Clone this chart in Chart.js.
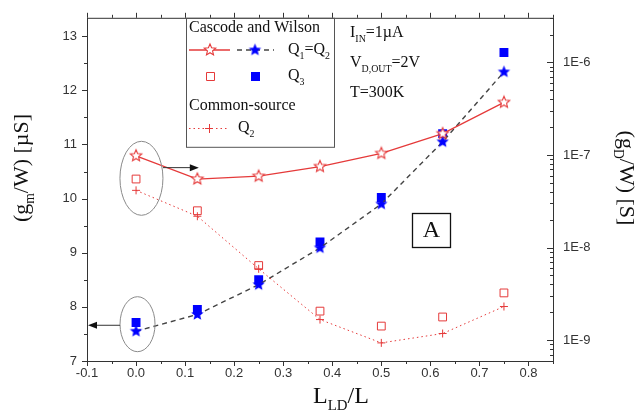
<!DOCTYPE html>
<html>
<head>
<meta charset="utf-8">
<script src="https://cdn.jsdelivr.net/npm/chart.js@4.4.0/dist/chart.umd.min.js"></script>
<style>
  html, body { margin: 0; padding: 0; background: #fff; }
  #wrap { width: 639px; height: 412px; position: relative; }
</style>
</head>
<body>
<div id="wrap"><canvas id="chart"></canvas></div>
<script>
const lengthRatio = [0, 0.125, 0.25, 0.375, 0.5, 0.625, 0.75];

// gm/W in uS, left axis (blue)
const gmCascodeQ12 = [7.55, 7.86, 8.41, 9.09, 9.90, 11.05, 12.34];
const gmCascodeQ3 = [7.71, 7.95, 8.50, 9.20, 10.02, 11.20, 12.70];

// gD/W in S, right log axis (red)
const gdCascodeQ12 = [9.8e-8, 5.5e-8, 5.9e-8, 7.5e-8, 1.04e-7, 1.7e-7, 3.7e-7];
const gdCascodeQ3 = [5.5e-8, 2.5e-8, 6.4e-9, 2.06e-9, 1.42e-9, 1.78e-9, 3.24e-9];
const gdCommonQ2 = [4.15e-8, 2.18e-8, 5.9e-9, 1.67e-9, 9.35e-10, 1.18e-9, 2.31e-9];

const xTickLabels = ['-0.1', '0.0', '0.1', '0.2', '0.3', '0.4', '0.5', '0.6', '0.7', '0.8'];
const leftTickLabels = ['7', '8', '9', '10', '11', '12', '13'];
const rightTickLabels = ['1E-9', '1E-8', '1E-7', '1E-6'];

const RED = '#e53a3a';
const BLUE = '#0000ff';
const DASH = '#444444';
const SERIF = '"Liberation Serif", "DejaVu Serif", serif';
const SANS = '"Liberation Sans", Arial, sans-serif';

function makeStar(fill, stroke, r) {
  const size = Math.ceil(r * 2 + 4);
  const c = document.createElement('canvas');
  c.width = size;
  c.height = size;
  const ctx = c.getContext('2d');
  ctx.beginPath();
  for (let i = 0; i < 10; i++) {
    const rad = i % 2 === 0 ? r : r * 0.45;
    const a = -Math.PI / 2 + i * Math.PI / 5;
    const px = size / 2 + rad * Math.cos(a);
    const py = size / 2 + rad * Math.sin(a);
    if (i === 0) ctx.moveTo(px, py); else ctx.lineTo(px, py);
  }
  ctx.closePath();
  ctx.fillStyle = fill;
  ctx.fill();
  if (stroke) {
    ctx.strokeStyle = stroke;
    ctx.lineWidth = 1.1;
    ctx.stroke();
  }
  return c;
}

const redStar = makeStar('#ffffff', RED, 6);
const blueStar = makeStar(BLUE, null, 6.5);

function pts(ys) {
  return ys.map((y, i) => ({ x: lengthRatio[i], y: y }));
}

// text with subscripts: parts = [[text, isSub], ...]
function richWidth(ctx, parts, size) {
  let w = 0;
  parts.forEach(([t, sub]) => {
    ctx.font = (sub ? size * 0.62 : size) + 'px ' + SERIF;
    w += ctx.measureText(t).width;
  });
  return w;
}

function drawRich(ctx, parts, x, y, size, align) {
  let cx = x;
  if (align === 'center') cx = x - richWidth(ctx, parts, size) / 2;
  ctx.textBaseline = 'middle';
  ctx.textAlign = 'left';
  parts.forEach(([t, sub]) => {
    ctx.font = (sub ? size * 0.62 : size) + 'px ' + SERIF;
    ctx.fillText(t, cx, sub ? y + size * 0.38 : y);
    cx += ctx.measureText(t).width;
  });
}

function arrow(ctx, x1, y1, x2, y2) {
  const dir = Math.sign(x2 - x1);
  ctx.beginPath();
  ctx.moveTo(x1, y1);
  ctx.lineTo(x2 - dir * 7, y2);
  ctx.stroke();
  ctx.beginPath();
  ctx.moveTo(x2, y2);
  ctx.lineTo(x2 - dir * 9, y2 - 3.5);
  ctx.lineTo(x2 - dir * 9, y2 + 3.5);
  ctx.closePath();
  ctx.fill();
}

const decorations = {
  id: 'decorations',
  afterDraw(chart) {
    const ctx = chart.ctx;
    const area = chart.chartArea;
    const xs = chart.scales.x;
    const yl = chart.scales.y;
    const yr = chart.scales.yR;
    ctx.save();

    // frame
    ctx.strokeStyle = '#333';
    ctx.lineWidth = 1;
    ctx.strokeRect(area.left + 0.5, area.top + 0.5, area.right - area.left, area.bottom - area.top);

    // ticks on x (bottom and top)
    ctx.beginPath();
    const xMajor = xTickLabels.map(Number);
    xMajor.forEach(v => {
      [v, v + 0.05].forEach((t, k) => {
        if (t > xs.max + 1e-9) return;
        const px = Math.round(xs.getPixelForValue(t)) + 0.5;
        const len = k === 0 ? 5 : 3;
        ctx.moveTo(px, area.bottom); ctx.lineTo(px, area.bottom + len);
        ctx.moveTo(px, area.top); ctx.lineTo(px, area.top - len);
      });
    });
    // left ticks
    leftTickLabels.map(Number).forEach(v => {
      [v, v + 0.5].forEach((t, k) => {
        if (t > yl.max) return;
        const py = Math.round(yl.getPixelForValue(t)) + 0.5;
        const len = k === 0 ? 5 : 3;
        ctx.moveTo(area.left, py); ctx.lineTo(area.left - len, py);
      });
    });
    // right log ticks
    for (let e = -10; e <= -5; e++) {
      for (let m = 1; m <= 9; m++) {
        const v = m * Math.pow(10, e);
        if (v < yr.min || v > yr.max) continue;
        const py = Math.round(yr.getPixelForValue(v)) + 0.5;
        const len = m === 1 ? 6 : 3;
        ctx.moveTo(area.right, py); ctx.lineTo(area.right - len, py);
      }
    }
    ctx.stroke();

    // ellipses and arrows
    ctx.strokeStyle = '#8a8a8a';
    ctx.lineWidth = 1;
    const e1x = xs.getPixelForValue(0.011), e1y = yr.getPixelForValue(5.6e-8);
    ctx.beginPath();
    ctx.ellipse(e1x, e1y, 21.5, 37, 0, 0, Math.PI * 2);
    ctx.stroke();
    const e2x = xs.getPixelForValue(0.003), e2y = yl.getPixelForValue(7.68);
    ctx.beginPath();
    ctx.ellipse(e2x, e2y, 17.5, 27.5, 0, 0, Math.PI * 2);
    ctx.stroke();

    ctx.strokeStyle = '#333';
    ctx.fillStyle = '#111';
    const a1y = yr.getPixelForValue(7.3e-8);
    arrow(ctx, e1x + 21.5, a1y, xs.getPixelForValue(0.128), a1y);
    const a2y = yl.getPixelForValue(7.66);
    arrow(ctx, e2x - 17.5, a2y, area.left + 1, a2y);

    // legend box
    ctx.strokeStyle = '#555';
    ctx.strokeRect(186.5, area.top + 0.5, 148, 129);
    ctx.fillStyle = '#111';
    drawRich(ctx, [['Cascode and Wilson', false]], 189, 28, 16);
    // row 1
    ctx.strokeStyle = RED;
    ctx.lineWidth = 1.3;
    ctx.beginPath(); ctx.moveTo(189, 50); ctx.lineTo(230, 50); ctx.stroke();
    ctx.drawImage(redStar, 210 - redStar.width / 2, 50 - redStar.height / 2);
    ctx.strokeStyle = DASH;
    ctx.setLineDash([5, 4]);
    ctx.beginPath(); ctx.moveTo(237, 50); ctx.lineTo(274, 50); ctx.stroke();
    ctx.setLineDash([]);
    ctx.drawImage(blueStar, 255 - blueStar.width / 2, 50 - blueStar.height / 2);
    ctx.fillStyle = '#111';
    drawRich(ctx, [['Q', false], ['1', true], ['=Q', false], ['2', true]], 288, 50, 16);
    // row 2
    ctx.strokeStyle = RED;
    ctx.fillStyle = '#fff';
    ctx.lineWidth = 1;
    ctx.beginPath(); ctx.rect(206.5, 72.5, 8, 8); ctx.fill(); ctx.stroke();
    ctx.fillStyle = BLUE;
    ctx.fillRect(251, 72, 9, 9);
    ctx.fillStyle = '#111';
    drawRich(ctx, [['Q', false], ['3', true]], 288, 76, 16);
    drawRich(ctx, [['Common-source', false]], 189, 106, 16);
    // row 3
    ctx.strokeStyle = RED;
    ctx.lineWidth = 1;
    ctx.setLineDash([1.5, 3]);
    ctx.beginPath(); ctx.moveTo(189, 128.5); ctx.lineTo(229, 128.5); ctx.stroke();
    ctx.setLineDash([]);
    ctx.beginPath();
    ctx.moveTo(205, 128.5); ctx.lineTo(213, 128.5);
    ctx.moveTo(209.5, 124); ctx.lineTo(209.5, 133);
    ctx.stroke();
    ctx.fillStyle = '#111';
    drawRich(ctx, [['Q', false], ['2', true]], 238, 128, 16);

    // conditions
    drawRich(ctx, [['I', false], ['IN', true], ['=1\u00b5A', false]], 350, 33, 16);
    drawRich(ctx, [['V', false], ['D,OUT', true], ['=2V', false]], 350, 63, 16);
    drawRich(ctx, [['T=300K', false]], 350, 93, 16);

    // panel label
    ctx.strokeStyle = '#111';
    ctx.lineWidth = 1.3;
    ctx.strokeRect(412.5, 213.5, 38, 34);
    drawRich(ctx, [['A', false]], 431.5, 231, 24, 'center');

    // axis titles
    drawRich(ctx, [['L', false], ['LD', true], ['/L', false]], 341, 397, 24, 'center');
    ctx.save();
    ctx.translate(22, 168);
    ctx.rotate(-Math.PI / 2);
    drawRich(ctx, [['(g', false], ['m', true], ['/W) [\u00b5S]', false]], 0, 0, 22, 'center');
    ctx.restore();
    ctx.save();
    ctx.translate(626, 178);
    ctx.rotate(Math.PI / 2);
    drawRich(ctx, [['(g', false], ['D', true], ['/W) [S]', false]], 0, 0, 22, 'center');
    ctx.restore();

    ctx.restore();
  }
};

const tickFont = { family: SANS, size: 13 };

new Chart(document.getElementById('chart').getContext('2d'), {
  type: 'scatter',
  data: {
    datasets: [
      {
        label: 'Q1=Q2 Cascode and Wilson (gD/W)',
        data: pts(gdCascodeQ12),
        yAxisID: 'yR',
        showLine: true,
        borderColor: RED,
        borderWidth: 1.3,
        pointStyle: redStar,
        pointRadius: 6,
      },
      {
        label: 'Q3 Cascode and Wilson (gD/W)',
        data: pts(gdCascodeQ3),
        yAxisID: 'yR',
        showLine: false,
        pointStyle: 'rect',
        pointRadius: 5.5,
        pointBorderWidth: 1,
        pointBorderColor: RED,
        pointBackgroundColor: 'rgba(255,255,255,0)',
      },
      {
        label: 'Q2 Common-source (gD/W)',
        data: pts(gdCommonQ2),
        yAxisID: 'yR',
        showLine: true,
        borderColor: RED,
        borderWidth: 1,
        borderDash: [1.5, 3],
        pointStyle: 'cross',
        pointRadius: 4,
        pointBorderWidth: 1,
        pointBorderColor: RED,
      },
      {
        label: 'Q1=Q2 (gm/W)',
        data: pts(gmCascodeQ12),
        yAxisID: 'y',
        showLine: true,
        borderColor: DASH,
        borderWidth: 1.4,
        borderDash: [5, 4],
        pointStyle: blueStar,
        pointRadius: 6,
      },
      {
        label: 'Q3 (gm/W)',
        data: pts(gmCascodeQ3),
        yAxisID: 'y',
        showLine: false,
        pointStyle: 'rect',
        pointRadius: 6.3,
        pointBorderWidth: 0,
        pointBackgroundColor: BLUE,
      },
    ],
  },
  options: {
    responsive: true,
    maintainAspectRatio: false,
    animation: false,
    events: [],
    layout: { padding: { top: 15, left: 0, right: 0, bottom: 0 } },
    plugins: { legend: { display: false }, tooltip: { enabled: false } },
    scales: {
      x: {
        type: 'linear',
        min: -0.1,
        max: 0.85,
        afterBuildTicks: (s) => { s.ticks = xTickLabels.map(v => ({ value: Number(v) })); },
        afterFit: (s) => { s.height = 51; },
        ticks: {
          callback: (v, i) => xTickLabels[i],
          autoSkip: false,
          maxRotation: 0,
          padding: 5,
          font: tickFont,
          color: '#333',
        },
        grid: { display: false, drawTicks: false },
        border: { display: false },
      },
      y: {
        position: 'left',
        min: 7,
        max: 13.34,
        afterBuildTicks: (s) => { s.ticks = leftTickLabels.map(v => ({ value: Number(v) })); },
        afterFit: (s) => { s.width = 87; },
        ticks: {
          callback: (v, i) => leftTickLabels[i],
          padding: 10,
          font: tickFont,
          color: '#333',
        },
        grid: { display: false, drawTicks: false },
        border: { display: false },
      },
      yR: {
        position: 'right',
        type: 'logarithmic',
        min: 5.96e-10,
        max: 3.03e-6,
        afterBuildTicks: (s) => { s.ticks = rightTickLabels.map(v => ({ value: Number(v) })); },
        afterFit: (s) => { s.width = 86; },
        ticks: {
          callback: (v, i) => rightTickLabels[i],
          padding: 10,
          font: tickFont,
          color: '#333',
        },
        grid: { display: false, drawTicks: false },
        border: { display: false },
      },
    },
  },
  plugins: [decorations],
});
</script>
</body>
</html>
